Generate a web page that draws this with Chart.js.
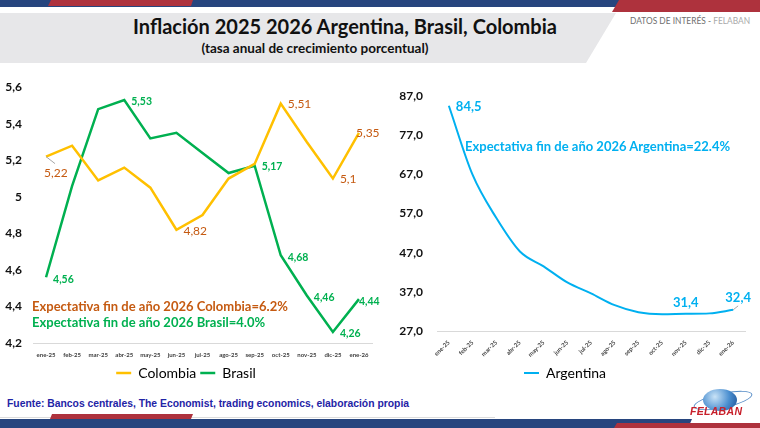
<!DOCTYPE html>
<html lang="es">
<head>
    <meta charset="UTF-8">
    <title>Inflación 2025 2026 Argentina, Brasil, Colombia</title>
    <script src="https://cdn.jsdelivr.net/npm/chart.js"></script>
    <style>
        body {
            margin: 0;
            width: 760px;
            height: 428px;
            background: #fff;
            position: relative;
            overflow: hidden;
            font-family: Lato, 'Open Sans', sans-serif;
        }
        .abs { position: absolute; }
        #top-blue { left: 0; top: 0; width: 622px; height: 7px; background: #27457e; }
        #top-red { left: 612px; top: 0; width: 148px; height: 12px; background: #ae323d;
            clip-path: polygon(7px 0, 100% 0, 100% 100%, 0 100%); }
        #top-red-small { left: 48px; top: 0; width: 145px; height: 6px; background: #ae323d;
            clip-path: polygon(3px 0, 100% 0, calc(100% - 2px) 100%, 0 100%); }
        #panel { left: 0; top: 13px; width: 616px; height: 50px; background: #e7e7e9;
            clip-path: polygon(0 0, 100% 0, 586px 100%, 0 100%); }
        #title { left: 0; width: 690px; top: 14px; text-align: center; font-weight: bold;
            font-size: 20px; color: #111; }
        #subtitle { left: 0; width: 630px; top: 40px; text-align: center; font-weight: bold;
            font-size: 13.5px; color: #111; }
        #datos { left: 630px; top: 15px; font-size: 9px; color: #6f6f6f; white-space: nowrap;
            transform: scaleX(0.93); transform-origin: left top; }
        #datos span { color: #a9a9a9; }
        #left-wrap { left: 0; top: 77px; width: 380px; height: 313px; }
        #right-wrap { left: 385px; top: 80px; width: 375px; height: 310px; }
        .note { font-weight: bold; font-size: 13px; white-space: nowrap; }
        #note-col { left: 32px; top: 298px; color: #c55a11; }
        #note-bra { left: 32px; top: 314px; color: #00b050; }
        #note-arg { left: 465px; top: 138px; color: #00b0f0; }
        #source { left: 7px; top: 397px; font-family: 'Liberation Sans', Arial, sans-serif;
            font-weight: bold; font-size: 11.5px; color: #1f24a6; white-space: nowrap;
            transform: scaleX(0.9); transform-origin: left top; }
        #foot-line { left: 0; top: 417px; width: 495px; height: 1px; background: #dcdcdc; }
        #foot-red-small { left: 50px; top: 414px; width: 143px; height: 5px; background: #ae323d;
            clip-path: polygon(2px 0, 100% 0, calc(100% - 2px) 100%, 0 100%); }
        #foot-blue { left: 0; top: 419px; width: 692px; height: 9px; background: #27457e;
            clip-path: polygon(0 0, 100% 0, calc(100% - 4px) 100%, 0 100%); }
        #foot-red { left: 614px; top: 423px; width: 146px; height: 5px; background: #ae323d;
            clip-path: polygon(3px 0, 100% 0, 100% 100%, 0 100%); }
        #globe { left: 703px; top: 389px; width: 34px; height: 22px; border-radius: 50%;
            background: radial-gradient(circle at 35% 35%, #c9e3f7, #4b8fd0 55%, #1b4f93); }
        #orbit { left: 693px; top: 393px; width: 58px; height: 13px; border-radius: 50%;
            border: 1px solid #5a8fc8; transform: rotate(-12deg); }
        #felaban { left: 690px; top: 405px; font-size: 10.5px; font-weight: bold; font-style: italic;
            color: #c8202b; font-family: 'Liberation Sans', Arial, sans-serif; letter-spacing: 0.3px; }
    </style>
</head>
<body>
    <div class="abs" id="top-blue"></div>
    <div class="abs" id="top-red"></div>
    <div class="abs" id="top-red-small"></div>
    <div class="abs" id="panel"></div>
    <div class="abs" id="title">Inflación 2025 2026 Argentina, Brasil, Colombia</div>
    <div class="abs" id="subtitle">(tasa anual de crecimiento porcentual)</div>
    <div class="abs" id="datos">DATOS DE INTERÉS - <span>FELABAN</span></div>

    <div class="abs" id="left-wrap"><canvas id="left-chart"></canvas></div>
    <div class="abs" id="right-wrap"><canvas id="right-chart"></canvas></div>

    <div class="abs note" id="note-col">Expectativa fin de año 2026 Colombia=6.2%</div>
    <div class="abs note" id="note-bra">Expectativa fin de año 2026 Brasil=4.0%</div>
    <div class="abs note" id="note-arg">Expectativa fin de año 2026 Argentina=22.4%</div>

    <div class="abs" id="source">Fuente: Bancos centrales, The Economist, trading economics, elaboración propia</div>
    <div class="abs" id="foot-line"></div>
    <div class="abs" id="foot-blue"></div>
    <div class="abs" id="foot-red"></div>
    <div class="abs" id="foot-red-small"></div>
    <div class="abs" id="orbit"></div>
    <div class="abs" id="globe"></div>
    <div class="abs" id="felaban">FELABAN</div>

    <script>
        const months = ["ene-25", "feb-25", "mar-25", "abr-25", "may-25", "jun-25", "jul-25",
                        "ago-25", "sep-25", "oct-25", "nov-25", "dic-25", "ene-26"];
        const colombia = [5.22, 5.28, 5.09, 5.16, 5.05, 4.82, 4.90, 5.10, 5.18, 5.51, 5.30, 5.10, 5.35];
        const brasil = [4.56, 5.06, 5.48, 5.53, 5.32, 5.35, 5.24, 5.13, 5.17, 4.68, 4.46, 4.26, 4.44];
        const argentina = [84.5, 66.9, 55.9, 47.3, 43.5, 39.4, 36.6, 33.6, 31.8, 31.3, 31.4, 31.5, 32.4];
        const leftTicks = { min: 4.2, max: 5.6, step: 0.2 };
        const rightTicks = { min: 27, max: 87, step: 10 };

        // which points carry a value label (index into the series)
        const colombiaLabelled = [0, 5, 9, 11, 12];
        const brasilLabelled = [0, 3, 8, 9, 10, 11, 12];
        const argentinaLabelled = [0, 10, 12];

        const FONT = "Lato, 'Open Sans', sans-serif";
        const comma = (v, d) => (d === undefined ? String(+v.toFixed(2)) : v.toFixed(d)).replace('.', ',');

        // draws the value labels next to chosen points
        const valueLabels = {
            id: 'valueLabels',
            afterDatasetsDraw(chart, args, opts) {
                const ctx = chart.ctx;
                ctx.save();
                opts.items.forEach(item => {
                    const meta = chart.getDatasetMeta(item.ds);
                    const data = chart.data.datasets[item.ds].data;
                    item.idx.forEach(i => {
                        const pt = meta.data[i];
                        const off = (item.offsets && item.offsets[i]) || [7, 0];
                        let x = pt.x + off[0], y = pt.y + off[1];
                        if (item.leader && item.leader[i]) {
                            ctx.strokeStyle = '#a6a6a6';
                            ctx.lineWidth = 1;
                            ctx.beginPath();
                            ctx.moveTo(pt.x, pt.y);
                            ctx.lineTo(pt.x + item.leader[i][0], pt.y + item.leader[i][1]);
                            ctx.stroke();
                        }
                        ctx.font = item.font;
                        ctx.fillStyle = item.color;
                        ctx.textAlign = off[2] || 'left';
                        ctx.textBaseline = 'middle';
                        ctx.fillText(comma(data[i], item.decimals), x, y);
                    });
                });
                ctx.restore();
            }
        };

        const legendLabels = {
            usePointStyle: true,
            pointStyle: 'line',
            pointStyleWidth: 15,
            padding: 4,
            color: '#000',
            font: { family: FONT, size: 14 }
        };

        new Chart(document.getElementById('left-chart'), {
            type: 'line',
            data: {
                labels: months,
                datasets: [
                    { label: 'Colombia', data: colombia, borderColor: '#ffc000', backgroundColor: '#ffc000',
                      borderWidth: 2.5, pointRadius: 0, tension: 0 },
                    { label: 'Brasil', data: brasil, borderColor: '#00b050', backgroundColor: '#00b050',
                      borderWidth: 2.5, pointRadius: 0, tension: 0 }
                ]
            },
            options: {
                responsive: true,
                maintainAspectRatio: false,
                animation: false,
                layout: { padding: { left: 0, right: 8, top: 0, bottom: 0 } },
                scales: {
                    x: {
                        offset: true,
                        grid: { display: false },
                        border: { color: '#d9d9d9' },
                        ticks: { autoSkip: false, maxRotation: 0, padding: 0, color: '#404040',
                                 font: { family: FONT, size: 6, weight: 'bold' } },
                        afterFit: s => { s.height = 19; }
                    },
                    y: {
                        min: leftTicks.min, max: leftTicks.max,
                        grid: { display: false },
                        border: { display: false },
                        ticks: { stepSize: leftTicks.step, padding: 3, color: '#111',
                                 font: { family: FONT, size: 12, weight: 'bold' },
                                 callback: v => comma(v) },
                        afterFit: s => { s.width = 33; }
                    }
                },
                plugins: {
                    legend: { position: 'bottom', labels: legendLabels },
                    tooltip: { enabled: false },
                    valueLabels: {
                        items: [
                            { ds: 0, idx: colombiaLabelled, color: '#c55a11', font: `12px ${FONT}`, decimals: undefined,
                              offsets: { 0: [-2, 16], 5: [7, 1], 9: [7, 0], 11: [7, 1], 12: [-3, 0] },
                              leader: { 0: [9, 7] } },
                            { ds: 1, idx: brasilLabelled, color: '#00b050', font: `bold 10.5px ${FONT}`,
                              offsets: { 0: [7, 2], 3: [7, 2], 8: [7, 1], 9: [7, 2], 10: [7, 2], 11: [7, 2], 12: [0, 2] } }
                        ]
                    }
                }
            },
            plugins: [valueLabels]
        });

        new Chart(document.getElementById('right-chart'), {
            type: 'line',
            data: {
                labels: months,
                datasets: [
                    { label: 'Argentina', data: argentina, borderColor: '#00b0f0', backgroundColor: '#00b0f0',
                      borderWidth: 2, pointRadius: 0, cubicInterpolationMode: 'monotone' }
                ]
            },
            options: {
                responsive: true,
                maintainAspectRatio: false,
                animation: false,
                layout: { padding: { left: 0, right: 15, top: 16, bottom: 0 } },
                scales: {
                    x: {
                        offset: true,
                        grid: { display: false },
                        border: { color: '#d9d9d9' },
                        ticks: { autoSkip: false, minRotation: 45, maxRotation: 45, padding: 0, color: '#404040',
                                 font: { family: FONT, size: 6, weight: 'bold' } },
                        afterFit: s => { s.height = 31; }
                    },
                    y: {
                        min: rightTicks.min, max: rightTicks.max,
                        grid: { display: false },
                        border: { display: false },
                        ticks: { stepSize: rightTicks.step, padding: 6, color: '#111',
                                 font: { family: FONT, size: 12, weight: 'bold' },
                                 callback: v => comma(v, 1) },
                        afterFit: s => { s.width = 52; }
                    }
                },
                plugins: {
                    legend: { position: 'bottom', labels: legendLabels },
                    tooltip: { enabled: false },
                    valueLabels: {
                        items: [
                            { ds: 0, idx: argentinaLabelled, color: '#00b0f0', font: `bold 13px ${FONT}`, decimals: 1,
                              offsets: { 0: [7, 1], 10: [0, -11, 'center'], 12: [5, -12, 'center'] },
                              leader: { 12: [5, -4] } }
                        ]
                    }
                }
            },
            plugins: [valueLabels]
        });
    </script>
</body>
</html>
